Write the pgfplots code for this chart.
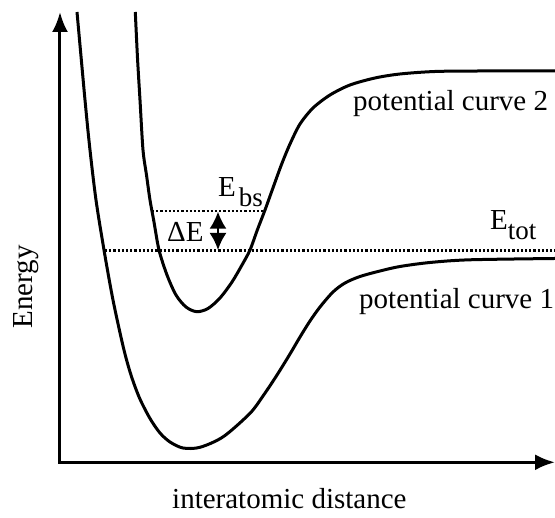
\documentclass[border=0pt]{standalone}
\usepackage{pgfplots}
\pgfplotsset{compat=1.18}
\usepackage{fontspec}
\setmainfont{Liberation Serif}
\usetikzlibrary{arrows.meta}
\begin{document}
\fontsize{29}{34}\selectfont
\begin{tikzpicture}
\path[use as bounding box] (-60pt,-55.7pt) rectangle (495pt,462.3pt);
\begin{axis}[
  x=1pt, y=1pt,
  at={(0,0)}, anchor=south west,
  xmin=60, xmax=555, ymin=55.7, ymax=506,
  enlargelimits=false,
  axis lines=left, ticks=none, clip=false,
  axis line style={line width=3pt, line cap=rect, -{Latex[length=20pt,width=16pt]}},
  every outer x axis line/.append style={-{Latex[length=20pt,width=16pt]}},
  every outer y axis line/.append style={-{Latex[length=20pt,width=16pt]}},
]
% potential curve 1
\addplot[line width=3pt, smooth, tension=0.5] coordinates {
  (77,506) (85,418) (90,368) (96,318) (104,268) (113,218) (123.5,170)
  (131,143) (139.5,120) (150,99.5) (160,85) (170,76) (183,70) (200,70.7)
  (223.3,81.3) (250,104.7) (263,122) (276.7,142.5) (290,164) (300,181)
  (310,197) (320,211) (333,226) (345,235) (360,241.5) (380,247) (400,251.5)
  (430,255.5) (470,258.2) (555,259.5)};
% potential curve 2
\addplot[line width=3pt, smooth, tension=0.5] coordinates {
  (135.3,506) (137.5,460) (140,418) (143,368) (146.5,343) (150,318)
  (154,296) (159,268) (167,243) (176,223) (186,211) (196.7,206.3)
  (208,209.5) (220,220) (232,236) (242,253) (250,268) (257.5,288.5)
  (265,308) (273.3,331) (281.7,354) (290,374) (300,394) (313,410)
  (330,423) (350,433) (375,440) (400,444) (435,446.5) (480,447) (555,447)};
% energy levels
\addplot[line width=2.3pt, dash pattern=on 2.2pt off 2pt] coordinates {(105,267.5) (555,267.5)};
\addplot[line width=2.3pt, dash pattern=on 2.2pt off 2pt] coordinates {(152,307.3) (263,307.3)};
% Delta E arrow
\draw[line width=2pt, {Latex[length=17pt,width=17pt]}-{Latex[length=17pt,width=17pt]}]
  (axis cs:218,306.3) -- (axis cs:218,268);
% labels
\node[anchor=base west, inner sep=0pt] at (axis cs:353,407.3) {potential curve 2};
\node[anchor=base west, inner sep=0pt] at (axis cs:359,209.7) {potential curve 1};
\node[anchor=base west, inner sep=0pt] at (axis cs:167,276.3) {ΔE};
\node[anchor=base west, inner sep=0pt] at (axis cs:218,321) {E\hspace{3pt}\raisebox{-10pt}{\fontsize{27}{30}\selectfont bs}};
\node[anchor=base west, inner sep=0pt] at (axis cs:490,288.7) {E\raisebox{-10.7pt}{\fontsize{27}{30}\selectfont tot}};
\node[anchor=base west, inner sep=0pt] at (axis cs:172,9) {interatomic distance};
\node[rotate=90, anchor=base, inner sep=0pt] at (axis cs:33,231) {Energy};
\end{axis}
\end{tikzpicture}
\end{document}
